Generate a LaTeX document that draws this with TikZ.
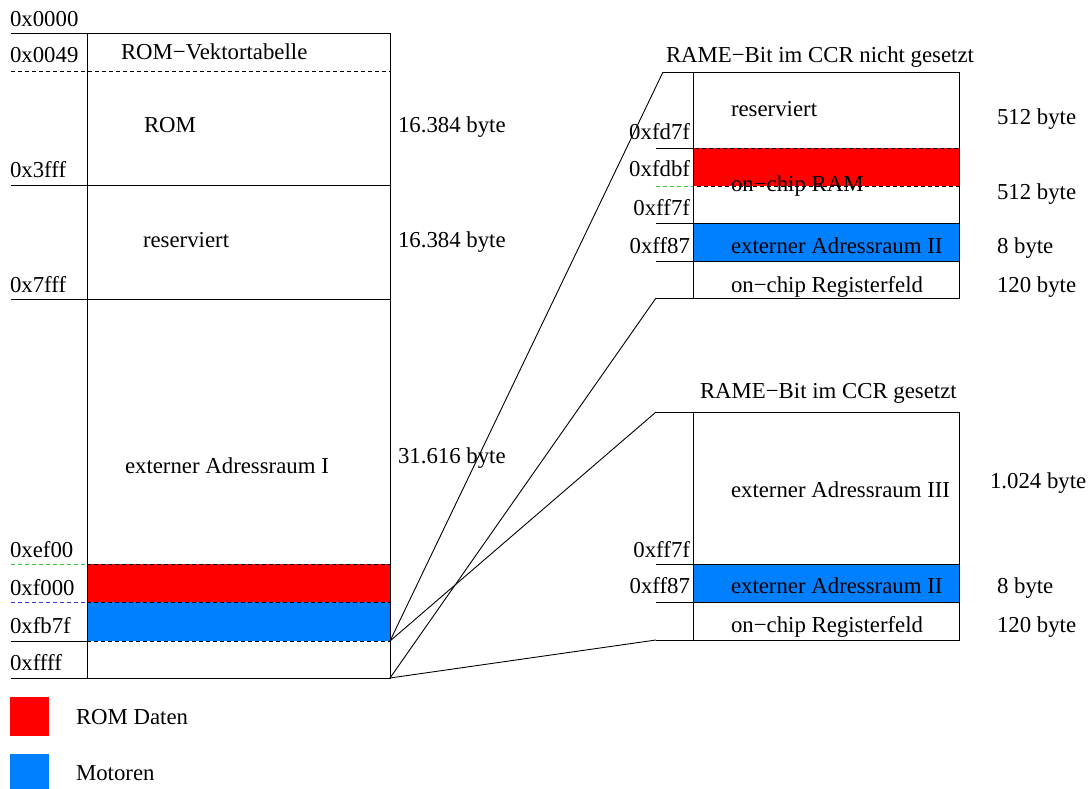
\documentclass[tikz,border=0pt]{standalone}
\usepackage{fontspec}
\setmainfont{Liberation Serif}
\definecolor{romred}{RGB}{255,0,0}
\definecolor{motblue}{RGB}{0,128,255}
\definecolor{tickgreen}{RGB}{60,200,60}
\definecolor{tickblue}{RGB}{60,60,230}
\begin{document}
\begin{tikzpicture}[x=1pt,y=-1pt,
  every node/.style={inner sep=0pt,outer sep=0pt,font=\fontsize{22.8}{27}\selectfont},
  lbl/.style={anchor=base west},
  addr/.style={anchor=base west},
  raddr/.style={anchor=base east},
  ln/.style={line width=0.9pt,black},
  dsh/.style={line width=0.9pt,dash pattern=on 4pt off 3pt},
  conn/.style={line width=0.9pt,black}]
\useasboundingbox (0,0) rectangle (1090,789);
% ---------- left map ----------
\fill[romred] (87,564) rectangle (390,602);
\fill[motblue] (87,602) rectangle (390,641);
\draw[dsh,black] (87,564) rectangle (390,641);
\draw[dsh,black] (87,602) -- (390,602);
\draw[ln] (87,33) rectangle (390,678);
\draw[ln] (11,33) -- (87,33);
\draw[dsh,black] (11,71) -- (390,71);
\draw[ln] (11,185) -- (390,185);
\draw[ln] (11,299) -- (390,299);
\draw[dsh,tickgreen] (11,564) -- (87,564);
\draw[dsh,tickblue] (11,602) -- (87,602);
\draw[ln] (11,641) -- (87,641);
\draw[ln] (11,678) -- (87,678);
\coordinate (Lb) at (390,641);
\coordinate (Lc) at (390,678);
\node[addr] (a0) at (10,27) {0x0000};
\node[addr] (a1) at (10,63) {0x0049};
\node[addr] (a2) at (10,178) {0x3fff};
\node[addr] (a3) at (10,292) {0x7fff};
\node[addr] (a4) at (10,557) {0xef00};
\node[addr] (a5) at (10,595) {0xf000};
\node[addr] (a6) at (10,633) {0xfb7f};
\node[addr] (a7) at (10,670) {0xffff};
\node[lbl] (t1) at (121,60) {ROM−Vektortabelle};
\node[lbl] (t2) at (144,133) {ROM};
\node[lbl] (t3) at (143,247) {reserviert};
\node[lbl] (t4) at (125,473) {externer Adressraum I};
\node[lbl] (s1) at (398,133) {16.384 byte};
\node[lbl] (s2) at (398,247) {16.384 byte};
\node[lbl] (s3) at (398,463) {31.616 byte};
% ---------- right top ----------
\fill[romred] (693,148) rectangle (959,186);
\draw[dsh,black] (693,148) rectangle (959,186);
\fill[motblue] (693,223) rectangle (959,261);
\draw[ln] (693,72) rectangle (959,298);
\draw[ln] (663,72) -- (693,72);
\draw[ln] (656,148) -- (693,148);
\draw[dsh,tickgreen] (656,186) -- (693,186);
\draw[ln] (656,223) -- (959,223);
\draw[ln] (656,261) -- (959,261);
\draw[ln] (656,298) -- (693,298);
\coordinate (Ta) at (663,72);
\coordinate (Tb) at (656,298);
\node[lbl] (h1) at (666,63) {RAME−Bit im CCR nicht gesetzt};
\node[raddr] (b1) at (690,140) {0xfd7f};
\node[raddr] (b2) at (690,177) {0xfdbf};
\node[raddr] (b3) at (690,215) {0xff7f};
\node[raddr] (b4) at (690,253) {0xff87};
\node[lbl] (r1) at (731,117) {reserviert};
\node[lbl] (r2) at (731,192) {on−chip RAM};
\node[lbl] (r3) at (731,253) {externer Adressraum II};
\node[lbl] (r4) at (731,292) {on−chip Registerfeld};
\node[lbl] (z1) at (997,125) {512 byte};
\node[lbl] (z2) at (997,200) {512 byte};
\node[lbl] (z3) at (997,253) {8 byte};
\node[lbl] (z4) at (997,292) {120 byte};
% ---------- right bottom ----------
\fill[motblue] (693,564) rectangle (959,602);
\draw[ln] (693,412) rectangle (959,640);
\draw[ln] (656,412) -- (693,412);
\draw[ln] (656,564) -- (959,564);
\draw[ln] (656,602) -- (959,602);
\draw[ln] (656,640) -- (693,640);
\coordinate (Ba) at (656,412);
\coordinate (Bb) at (656,640);
\node[lbl] (h2) at (700,398) {RAME−Bit im CCR gesetzt};
\node[lbl] (q1) at (731,497) {externer Adressraum III};
\node[lbl] (y1) at (990,488) {1.024 byte};
\node[raddr] (c1) at (690,557) {0xff7f};
\node[raddr] (c2) at (690,593) {0xff87};
\node[lbl] (q2) at (731,593) {externer Adressraum II};
\node[lbl] (q3) at (731,632) {on−chip Registerfeld};
\node[lbl] (y2) at (997,593) {8 byte};
\node[lbl] (y3) at (997,632) {120 byte};
% ---------- connectors ----------
\draw[conn] (Lb) -- (Ta);
\draw[conn] (Lb) -- (Ba);
\draw[conn] (Lc) -- (Tb);
\draw[conn] (Lc) -- (Bb);
% ---------- legend ----------
\fill[romred] (10,697) rectangle (49,736);
\fill[motblue] (10,754) rectangle (49,789);
\node[lbl] (l1) at (76,724) {ROM Daten};
\node[lbl] (l2) at (76,780) {Motoren};
\end{tikzpicture}
\end{document}
